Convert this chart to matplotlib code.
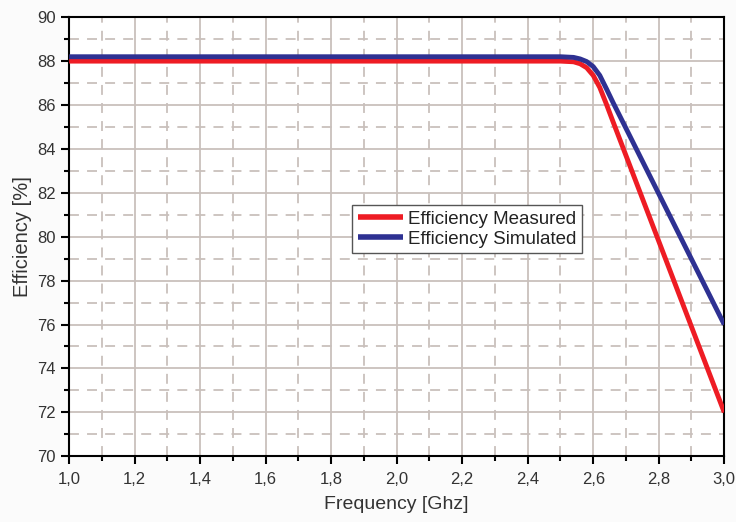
import matplotlib
matplotlib.use("Agg")
import matplotlib.pyplot as plt
from matplotlib.ticker import MultipleLocator, FuncFormatter

plt.rcParams['font.family'] = ['Liberation Sans', 'DejaVu Sans']

freq = [1.0, 1.5, 2.0, 2.5, 2.54, 2.56, 2.58, 2.60, 2.62, 2.64, 2.66, 2.70, 2.80, 2.90, 3.0]
eff_measured = [88.0, 88.0, 88.0, 88.0, 87.97, 87.88, 87.70, 87.35, 86.80, 86.05, 85.26, 83.70, 79.80, 75.90, 72.0]
eff_simulated = [88.2, 88.2, 88.2, 88.2, 88.17, 88.10, 87.98, 87.75, 87.35, 86.75, 86.13, 84.94, 81.96, 78.98, 76.0]

fig = plt.figure(figsize=(7.36, 5.22), dpi=100)
fig.patch.set_facecolor('#fbfbfb')
ax = fig.add_axes([0.094, 0.126, 0.890, 0.841])
ax.set_facecolor('white')

ax.plot(freq, eff_measured, color='#ee1c24', lw=3.5, solid_capstyle='butt',
        label='Efficiency Measured', zorder=3)
ax.plot(freq, eff_simulated, color='#2e3192', lw=3.5, solid_capstyle='butt',
        label='Efficiency Simulated', zorder=3)

ax.set_xlim(1.0, 3.0)
ax.set_ylim(70, 90)
ax.xaxis.set_major_locator(MultipleLocator(0.2))
ax.xaxis.set_minor_locator(MultipleLocator(0.1))
ax.yaxis.set_major_locator(MultipleLocator(2))
ax.yaxis.set_minor_locator(MultipleLocator(1))
ax.xaxis.set_major_formatter(FuncFormatter(lambda v, p: f"{v:.1f}".replace('.', ',')))
ax.yaxis.set_major_formatter(FuncFormatter(lambda v, p: f"{v:.0f}"))

grid_c = '#c9c0bc'
ax.grid(which='major', color=grid_c, lw=1.3, ls='-', zorder=0)
ax.grid(which='minor', color=grid_c, lw=1.3, ls=(0, (5.5, 4.5)), zorder=0)
ax.set_axisbelow(True)

ax.tick_params(which='major', direction='out', length=6, width=1.5, labelsize=12,
               colors='black', labelcolor='#333333')
ax.tick_params(axis='x', which='major', pad=5)
ax.tick_params(which='minor', direction='out', length=3.5, width=1.5)
ax.tick_params(top=False, right=False, which='both')
for s in ax.spines.values():
    s.set_linewidth(1.5)
    s.set_color('black')

ax.set_xlabel('Frequency [Ghz]', fontsize=14, color='#333333', labelpad=7)
ax.set_ylabel('Efficiency [%]', fontsize=14.5, color='#333333', labelpad=4)

leg = ax.legend(loc='upper left', bbox_to_anchor=(0.432, 0.572), fontsize=13.5,
                frameon=True, fancybox=False, framealpha=1, edgecolor='#555555',
                handlelength=2.4, handletextpad=0.3, borderpad=0.3,
                labelspacing=0.15, borderaxespad=0)
leg.get_frame().set_linewidth(1.0)
for line in leg.get_lines():
    line.set_linewidth(4.0)
for t in leg.get_texts():
    t.set_color('#222222')

fig.savefig('out.png', dpi=100, facecolor=fig.get_facecolor())
